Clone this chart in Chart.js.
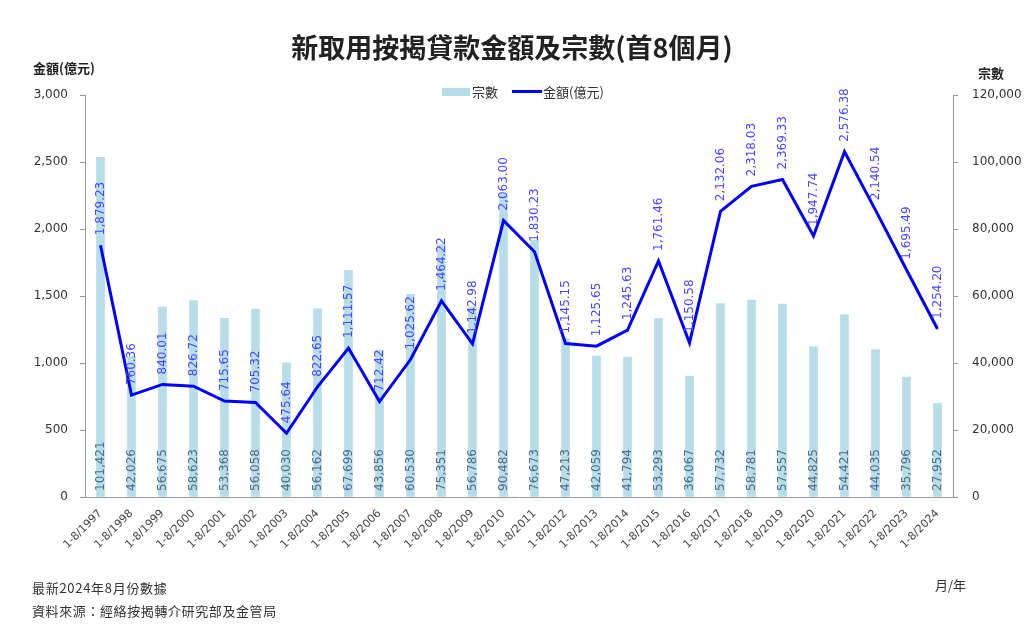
<!DOCTYPE html>
<html>
<head>
<meta charset="utf-8">
<script src="https://cdn.jsdelivr.net/npm/chart.js@4.4.1/dist/chart.umd.min.js"></script>
<style>
  html, body { margin: 0; padding: 0; background: #fff; }
  #wrap { position: relative; width: 1024px; height: 625px; overflow: hidden;
          font-family: "Noto Sans CJK TC", "Noto Sans", sans-serif; color: #222; }
  #chart { position: absolute; left: 0; top: 0; }
  .txt { position: absolute; white-space: nowrap; line-height: 1; }
  #title { left: 0; width: 1024px; top: 33px; text-align: center; font-size: 27px; font-weight: bold; }
  #yl { left: 33px; top: 61px; font-size: 13px; font-weight: bold; }
  #yr { left: 978px; top: 66px; font-size: 13px; font-weight: bold; }
  #legend { left: 442px; top: 85px; font-size: 13px; display: flex; align-items: center; color: #333; }
  .box { width: 28px; height: 8px; background: #b7dde8; margin-right: 2px; }
  .ln { width: 30px; height: 3px; background: #0000ff; margin: 0 1px 0 14px; }
  #f1 { left: 32px; top: 581px; font-size: 13px; letter-spacing: 0.7px; color: #333; }
  #f2 { left: 32px; top: 604px; font-size: 13px; letter-spacing: 0.6px; color: #333; }
  #unit { left: 935px; top: 578px; font-size: 13px; color: #333; }
</style>
</head>
<body>
<div id="wrap">
  <canvas id="chart" width="1024" height="625"></canvas>
  <div class="txt" id="title">新取用按揭貸款金額及宗數(首8個月)</div>
  <div class="txt" id="yl">金額(億元)</div>
  <div class="txt" id="yr">宗數</div>
  <div class="txt" id="legend"><span class="box"></span>宗數<span class="ln"></span>金額(億元)</div>
  <div class="txt" id="f1">最新2024年8月份數據</div>
  <div class="txt" id="f2">資料來源：經絡按揭轉介研究部及金管局</div>
  <div class="txt" id="unit">月/年</div>
</div>
<script>
/* ── Data ─────────────────────────────────────────────────────────────────── */
const YEARS = [1997, 1998, 1999, 2000, 2001, 2002, 2003, 2004, 2005, 2006, 2007,
  2008, 2009, 2010, 2011, 2012, 2013, 2014, 2015, 2016, 2017, 2018, 2019, 2020,
  2021, 2022, 2023, 2024];
const LABELS = YEARS.map((y) => `1-8/${y}`);

const AMOUNTS = [1879.23, 760.36, 840.01, 826.72, 715.65, 705.32, 475.64, 822.65,
  1111.57, 712.42, 1025.62, 1464.22, 1142.98, 2063.00, 1830.23, 1145.15, 1125.65,
  1245.63, 1761.46, 1150.58, 2132.06, 2318.03, 2369.33, 1947.74, 2576.38, 2140.54,
  1695.49, 1254.20];

const CASES = [101421, 42026, 56675, 58623, 53368, 56058, 40030, 56162, 67699,
  43856, 60530, 75351, 56786, 90482, 76673, 47213, 42059, 41794, 53293, 36067,
  57732, 58781, 57557, 44825, 54421, 44035, 35796, 27952];

/* ── Value labels plugin ──────────────────────────────────────────────────── */
const fmt2 = (v) => v.toLocaleString("en-US", { minimumFractionDigits: 2, maximumFractionDigits: 2 });
const fmt0 = (v) => v.toLocaleString("en-US");

const valueLabels = {
  id: "valueLabels",
  afterDatasetsDraw(chart) {
    const ctx = chart.ctx;
    const bottom = chart.chartArea.bottom;
    ctx.save();
    ctx.font = '12px "DejaVu Sans"';
    ctx.textBaseline = "middle";
    ctx.textAlign = "left";

    // case counts, along the foot of each bar
    ctx.fillStyle = "#4d6d8c";
    chart.getDatasetMeta(0).data.forEach((bar, i) => {
      ctx.save();
      ctx.translate(bar.x, bottom - 6);
      ctx.rotate(-Math.PI / 2);
      ctx.fillText(fmt0(CASES[i]), 0, 0);
      ctx.restore();
    });

    // amounts above each point
    ctx.fillStyle = "#4646ff";
    chart.getDatasetMeta(1).data.forEach((pt, i) => {
      ctx.save();
      ctx.translate(pt.x, pt.y - 10);
      ctx.rotate(-Math.PI / 2);
      ctx.fillText(fmt2(AMOUNTS[i]), 0, 0);
      ctx.restore();
    });
    ctx.restore();
  },
};

/* ── Chart ────────────────────────────────────────────────────────────────── */
const tickFont = { family: '"DejaVu Sans"', size: 12 };

new Chart(document.getElementById("chart"), {
  data: {
    labels: LABELS,
    datasets: [
      {
        type: "bar",
        label: "宗數",
        data: CASES,
        yAxisID: "yCases",
        backgroundColor: "#b7dde8",
        barThickness: 8,
        order: 2,
      },
      {
        type: "line",
        label: "金額(億元)",
        data: AMOUNTS,
        yAxisID: "yAmt",
        borderColor: "#0000ff",
        borderWidth: 3,
        pointRadius: 0,
        tension: 0,
        order: 1,
      },
    ],
  },
  options: {
    responsive: false,
    animation: false,
    layout: { padding: { top: 95, bottom: 68, left: 0, right: 0 } },
    plugins: { legend: { display: false }, tooltip: { enabled: false } },
    scales: {
      x: {
        offset: true,
        grid: { display: false },
        border: { color: "#999" },
        ticks: {
          font: { family: '"DejaVu Sans"', size: 11 },
          color: "#444",
          minRotation: 45,
          maxRotation: 45,
          padding: 2,
          autoSkip: false,
        },
        afterFit: (s) => { s.height = 60; },
      },
      yAmt: {
        position: "left",
        min: 0,
        max: 3000,
        ticks: { stepSize: 500, font: tickFont, color: "#333", padding: 12,
                 callback: (v) => fmt0(v) },
        grid: { drawOnChartArea: false, tickLength: 5, color: "#999" },
        border: { color: "#999" },
        afterFit: (s) => { s.width = 85; },
      },
      yCases: {
        position: "right",
        min: 0,
        max: 120000,
        ticks: { stepSize: 20000, font: tickFont, color: "#333", padding: 14,
                 callback: (v) => fmt0(v) },
        grid: { drawOnChartArea: false, tickLength: 5, color: "#999" },
        border: { color: "#999" },
        afterFit: (s) => { s.width = 71; },
      },
    },
  },
  plugins: [valueLabels],
});
</script>
</body>
</html>
